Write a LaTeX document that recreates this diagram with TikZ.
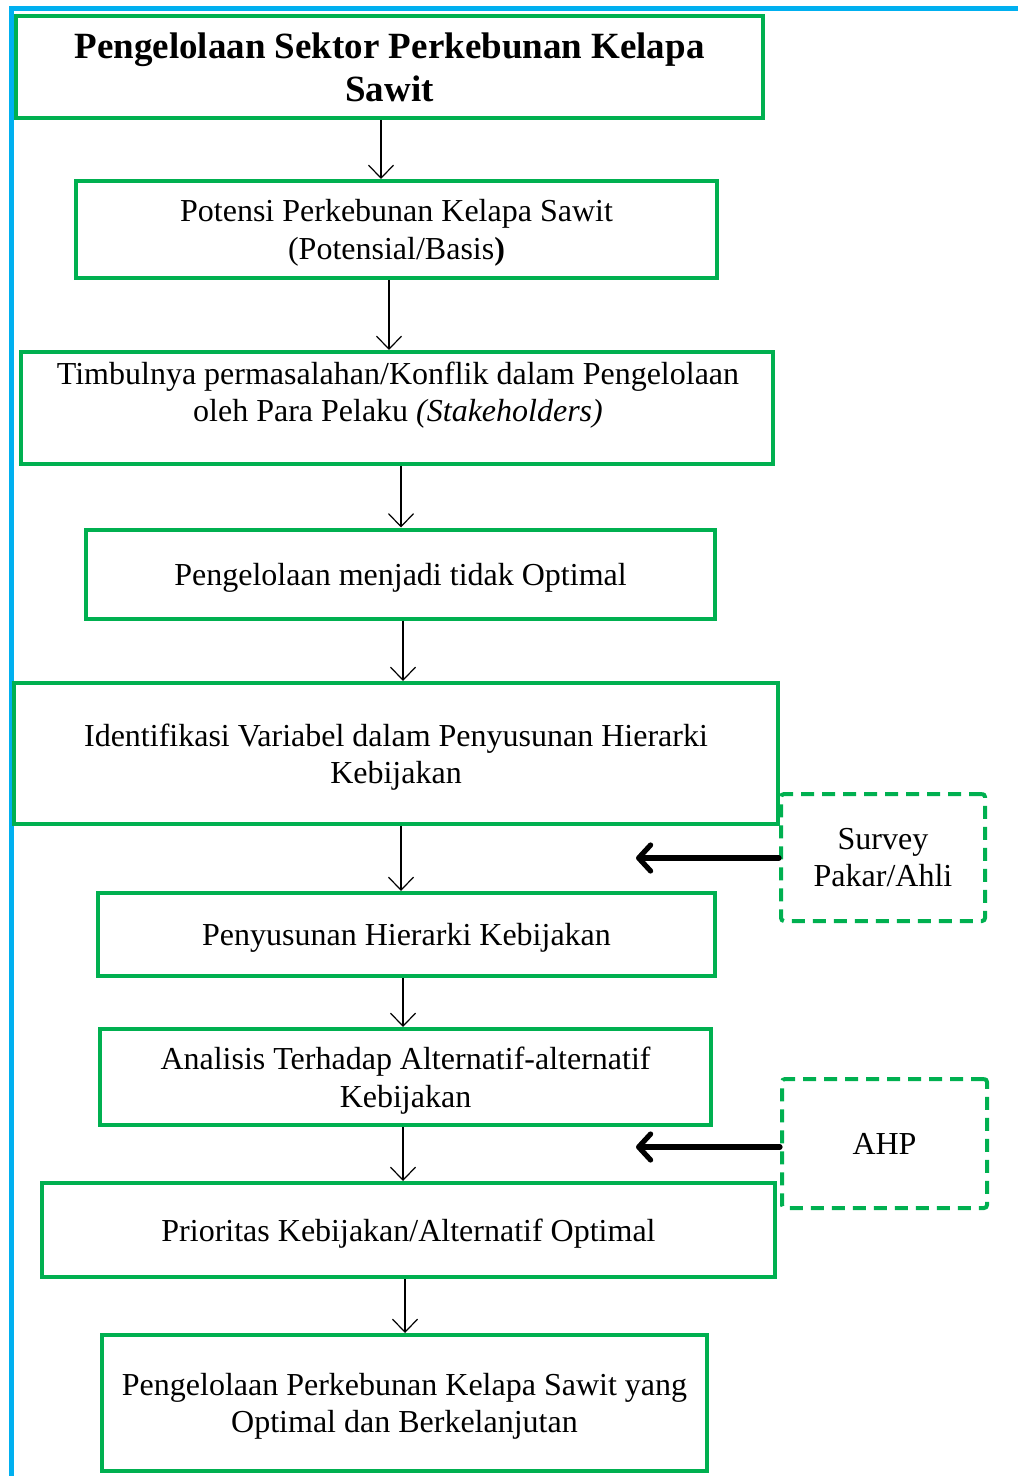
\documentclass[tikz,border=0pt]{standalone}
\usepackage{fontspec}
\setmainfont{Liberation Serif}
\usetikzlibrary{arrows.meta}
\definecolor{boxgreen}{RGB}{0,176,80}
\definecolor{frameblue}{RGB}{0,176,240}
\begin{document}
\begin{tikzpicture}[x=0.5pt,y=-0.5pt,
        box/.style={draw=boxgreen,line width=2pt,inner sep=0pt,align=center,
            text depth=0pt,font=\fontsize{16}{18.75}\selectfont},
        dbox/.style={box,dash pattern=on 6.5pt off 4pt,rounded corners=1.5pt},
        txt/.style={inner sep=0pt,align=center,font=\fontsize{16}{18.75}\selectfont},
        arr/.style={line width=0.6pt,-{Straight Barb[length=6.5pt,width=12.5pt]}},
        bigarr/.style={line width=2.6pt,line cap=round,
            -{Straight Barb[length=6pt,width=13pt,line cap=round,round]}}]
\useasboundingbox (0,0) rectangle (1018,1476);
\draw[frameblue,line width=2.5pt] (11,1476) -- (11,9) -- (1018,9);

\node[box,minimum width=373.5pt,minimum height=51pt,
    font=\fontsize{18.5}{21.5}\selectfont\bfseries] (title) at (389.5,67)
    {Pengelolaan Sektor Perkebunan Kelapa\\Sawit};
\node[box,minimum width=320.5pt,minimum height=48.5pt] (pot) at (396.5,229.5)
    {Potensi Perkebunan Kelapa Sawit\\(Potensial/Basis\textbf{)}};
\node[box,minimum width=376pt,minimum height=56pt] (timb) at (397,408) {};
\node[txt] (timbtxt) at (398,395)
    {Timbulnya permasalahan/Konflik dalam Pengelolaan\\oleh Para Pelaku \textit{(Stakeholders)}};
\node[box,minimum width=314.5pt,minimum height=44.5pt] (opt) at (400.5,574)
    {Pengelolaan menjadi tidak Optimal};
\node[box,minimum width=382pt,minimum height=70.5pt] (ident) at (396,753.5)
    {Identifikasi Variabel dalam Penyusunan Hierarki\\Kebijakan};
\node[box,minimum width=308.5pt,minimum height=41.5pt] (hier) at (406.5,934.5)
    {Penyusunan Hierarki Kebijakan};
\node[box,minimum width=305.5pt,minimum height=48pt] (anal) at (405.5,1077)
    {Analisis Terhadap Alternatif-alternatif\\Kebijakan};
\node[box,minimum width=366.5pt,minimum height=47pt] (prior) at (408.5,1230)
    {Prioritas Kebijakan/Alternatif Optimal};
\node[box,minimum width=302.5pt,minimum height=68pt] (final) at (404.5,1403)
    {Pengelolaan Perkebunan Kelapa Sawit yang\\Optimal dan Berkelanjutan};

\node[dbox,minimum width=102pt,minimum height=63.5pt] (survey) at (883,857.5)
    {Survey\\Pakar/Ahli};
\node[dbox,minimum width=102.5pt,minimum height=64.5pt] (ahp) at (884.5,1143.5)
    {AHP};

\draw[arr] (title.south -| 381,0) -- (pot.north -| 381,0);
\draw[arr] (pot.south -| 389,0) -- (timb.north -| 389,0);
\draw[arr] (timb.south -| 401,0) -- (opt.north -| 401,0);
\draw[arr] (opt.south -| 403,0) -- (ident.north -| 403,0);
\draw[arr] (ident.south -| 401,0) -- (hier.north -| 401,0);
\draw[arr] (hier.south -| 403,0) -- (anal.north -| 403,0);
\draw[arr] (anal.south -| 403,0) -- (prior.north -| 403,0);
\draw[arr] (prior.south -| 405,0) -- (final.north -| 405,0);

\coordinate (s1) at (636,858);
\coordinate (a1) at (636,1147);
\draw[bigarr] (survey.west |- s1) -- (s1);
\draw[bigarr] (ahp.west |- a1) -- (a1);
\end{tikzpicture}
\end{document}
